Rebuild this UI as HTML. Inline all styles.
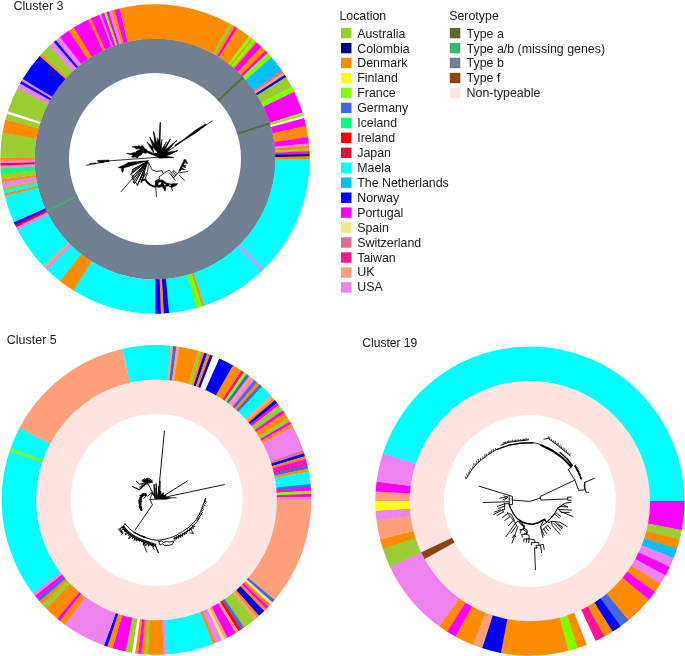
<!DOCTYPE html>
<html lang="en"><head><meta charset="utf-8"><title>Clusters</title>
<style>
html,body{margin:0;padding:0;background:#fff;}
body{width:685px;height:656px;overflow:hidden;}
svg{display:block;}
</style></head><body>
<svg width="685" height="656" viewBox="0 0 685 656">
<rect width="685" height="656" fill="#ffffff"/>
<g>
<path fill-rule="evenodd" fill="#708090" d="M34.40 159.05a120.60 120.60 0 1 0 241.20 0a120.60 120.60 0 1 0 -241.20 0ZM69.00 159.05a86.00 86.00 0 1 0 172.00 0a86.00 86.00 0 1 0 -172.00 0Z"/>
<path d="M242.77 76.34A120.60 120.60 0 0 1 244.06 77.73L218.51 101.06A86.00 86.00 0 0 0 217.59 100.07Z" fill="#556B2F"/>
<path d="M269.92 122.48A120.60 120.60 0 0 1 270.48 124.29L237.35 134.27A86.00 86.00 0 0 0 236.95 132.97Z" fill="#556B2F"/>
<path d="M46.61 211.92A120.60 120.60 0 0 1 45.79 210.21L77.12 195.53A86.00 86.00 0 0 0 77.70 196.75Z" fill="#3CB371"/>
<path d="M119.67 8.44A154.70 154.70 0 0 1 230.05 23.77L213.36 53.85A120.30 120.30 0 0 0 127.53 41.93Z" fill="#FF8C00"/>
<path d="M229.76 23.62A154.70 154.70 0 0 1 232.63 25.24L215.37 54.99A120.30 120.30 0 0 0 213.14 53.73Z" fill="#9ACD32"/>
<path d="M232.35 25.08A154.70 154.70 0 0 1 235.18 26.75L217.35 56.17A120.30 120.30 0 0 0 215.15 54.87Z" fill="#FF8C00"/>
<path d="M234.91 26.59A154.70 154.70 0 0 1 237.48 28.17L219.14 57.28A120.30 120.30 0 0 0 217.14 56.04Z" fill="#FF00FF"/>
<path d="M237.21 28.00A154.70 154.70 0 0 1 249.43 36.52L228.43 63.76A120.30 120.30 0 0 0 218.93 57.14Z" fill="#FF8C00"/>
<path d="M249.18 36.32A154.70 154.70 0 0 1 251.77 38.35L230.25 65.19A120.30 120.30 0 0 0 228.23 63.61Z" fill="#7FFF00"/>
<path d="M251.51 38.15A154.70 154.70 0 0 1 253.23 39.54L231.39 66.12A120.30 120.30 0 0 0 230.05 65.03Z" fill="#FF8C00"/>
<path d="M252.98 39.34A154.70 154.70 0 0 1 255.72 41.63L233.32 67.74A120.30 120.30 0 0 0 231.20 65.96Z" fill="#7FFF00"/>
<path d="M255.47 41.42A154.70 154.70 0 0 1 256.94 42.69L234.27 68.56A120.30 120.30 0 0 0 233.13 67.57Z" fill="#FF8C00"/>
<path d="M256.70 42.47A154.70 154.70 0 0 1 261.72 47.06L237.99 71.96A120.30 120.30 0 0 0 234.08 68.40Z" fill="#FF00FF"/>
<path d="M261.49 46.83A154.70 154.70 0 0 1 265.57 50.85L240.98 74.91A120.30 120.30 0 0 0 237.81 71.79Z" fill="#FF8C00"/>
<path d="M265.34 50.62A154.70 154.70 0 0 1 267.81 53.19L242.72 76.73A120.30 120.30 0 0 0 240.80 74.73Z" fill="#FF00FF"/>
<path d="M267.59 52.95A154.70 154.70 0 0 1 271.79 57.60L245.82 80.16A120.30 120.30 0 0 0 242.55 76.55Z" fill="#7FFF00"/>
<path d="M271.58 57.35A154.70 154.70 0 0 1 281.91 70.58L253.69 90.26A120.30 120.30 0 0 0 245.65 79.97Z" fill="#00BFFF"/>
<path d="M281.72 70.32A154.70 154.70 0 0 1 283.43 72.81L254.87 91.99A120.30 120.30 0 0 0 253.54 90.05Z" fill="#DB7093"/>
<path d="M283.25 72.54A154.70 154.70 0 0 1 284.92 75.07L256.03 93.74A120.30 120.30 0 0 0 254.73 91.78Z" fill="#FFA07A"/>
<path d="M284.74 74.79A154.70 154.70 0 0 1 286.36 77.35L257.15 95.51A120.30 120.30 0 0 0 255.89 93.53Z" fill="#0000FF"/>
<path d="M286.19 77.07A154.70 154.70 0 0 1 291.87 86.95L261.43 102.98A120.30 120.30 0 0 0 257.02 95.30Z" fill="#9ACD32"/>
<path d="M291.72 86.66A154.70 154.70 0 0 1 294.42 92.01L263.42 106.92A120.30 120.30 0 0 0 261.32 102.76Z" fill="#7FFF00"/>
<path d="M294.28 91.72A154.70 154.70 0 0 1 302.64 112.84L269.81 123.12A120.30 120.30 0 0 0 263.31 106.69Z" fill="#FF00FF"/>
<path d="M302.54 112.53A154.70 154.70 0 0 1 303.57 115.94L270.54 125.53A120.30 120.30 0 0 0 269.73 122.88Z" fill="#7FFF00"/>
<path d="M303.48 115.63A154.70 154.70 0 0 1 304.23 118.28L271.05 127.35A120.30 120.30 0 0 0 270.46 125.29Z" fill="#FFFFFF"/>
<path d="M304.15 117.97A154.70 154.70 0 0 1 306.16 126.15L272.55 133.46A120.30 120.30 0 0 0 270.98 127.10Z" fill="#FF00FF"/>
<path d="M306.09 125.83A154.70 154.70 0 0 1 308.16 137.31L274.11 142.14A120.30 120.30 0 0 0 272.49 133.22Z" fill="#FF8C00"/>
<path d="M308.12 136.99A154.70 154.70 0 0 1 308.91 143.47L274.69 146.93A120.30 120.30 0 0 0 274.07 141.89Z" fill="#FF00FF"/>
<path d="M308.88 143.15A154.70 154.70 0 0 1 309.12 145.62L274.85 148.61A120.30 120.30 0 0 0 274.66 146.68Z" fill="#EE82EE"/>
<path d="M309.09 145.30A154.70 154.70 0 0 1 309.35 148.58L275.02 150.91A120.30 120.30 0 0 0 274.82 148.36Z" fill="#FF8C00"/>
<path d="M309.32 148.26A154.70 154.70 0 0 1 309.50 151.28L275.15 153.01A120.30 120.30 0 0 0 275.01 150.66Z" fill="#9ACD32"/>
<path d="M309.49 150.95A154.70 154.70 0 0 1 309.62 153.97L275.24 155.10A120.30 120.30 0 0 0 275.14 152.75Z" fill="#FF00FF"/>
<path d="M309.61 153.65A154.70 154.70 0 0 1 309.68 156.67L275.29 157.20A120.30 120.30 0 0 0 275.23 154.85Z" fill="#000080"/>
<path d="M309.68 156.35A154.70 154.70 0 0 1 309.70 159.37L275.30 159.30A120.30 120.30 0 0 0 275.28 156.95Z" fill="#FF8C00"/>
<path d="M309.70 159.05A154.70 154.70 0 0 1 263.39 269.43L239.29 244.88A120.30 120.30 0 0 0 275.30 159.05Z" fill="#00FFFF"/>
<path d="M263.62 269.20A154.70 154.70 0 0 1 261.45 271.30L237.78 246.34A120.30 120.30 0 0 0 239.47 244.71Z" fill="#EE82EE"/>
<path d="M261.68 271.08A154.70 154.70 0 0 1 204.04 305.77L193.13 273.15A120.30 120.30 0 0 0 237.96 246.17Z" fill="#00FFFF"/>
<path d="M204.34 305.67A154.70 154.70 0 0 1 201.73 306.52L191.34 273.73A120.30 120.30 0 0 0 193.37 273.07Z" fill="#FF8C00"/>
<path d="M202.03 306.43A154.70 154.70 0 0 1 196.03 308.21L186.91 275.04A120.30 120.30 0 0 0 191.58 273.66Z" fill="#7FFF00"/>
<path d="M196.34 308.12A154.70 154.70 0 0 1 168.70 313.14L165.65 278.88A120.30 120.30 0 0 0 187.15 274.97Z" fill="#00FFFF"/>
<path d="M169.02 313.11A154.70 154.70 0 0 1 163.58 313.51L161.67 279.16A120.30 120.30 0 0 0 165.90 278.85Z" fill="#0000FF"/>
<path d="M163.91 313.49A154.70 154.70 0 0 1 160.61 313.65L159.37 279.27A120.30 120.30 0 0 0 161.92 279.15Z" fill="#FF8C00"/>
<path d="M160.94 313.64A154.70 154.70 0 0 1 154.95 313.75L154.96 279.35A120.30 120.30 0 0 0 159.62 279.26Z" fill="#0000FF"/>
<path d="M155.27 313.75A154.70 154.70 0 0 1 73.20 290.36L91.39 261.16A120.30 120.30 0 0 0 155.21 279.35Z" fill="#00FFFF"/>
<path d="M73.48 290.53A154.70 154.70 0 0 1 59.71 280.92L80.90 253.82A120.30 120.30 0 0 0 91.61 261.29Z" fill="#FF8C00"/>
<path d="M59.97 281.12A154.70 154.70 0 0 1 46.92 269.73L70.95 245.12A120.30 120.30 0 0 0 81.10 253.98Z" fill="#00FFFF"/>
<path d="M47.15 269.96A154.70 154.70 0 0 1 45.00 267.83L69.46 243.64A120.30 120.30 0 0 0 71.13 245.29Z" fill="#EE82EE"/>
<path d="M45.23 268.06A154.70 154.70 0 0 1 43.31 266.09L68.14 242.28A120.30 120.30 0 0 0 69.64 243.82Z" fill="#FFA07A"/>
<path d="M43.53 266.32A154.70 154.70 0 0 1 17.51 229.96L48.08 214.19A120.30 120.30 0 0 0 68.32 242.47Z" fill="#00FFFF"/>
<path d="M17.65 230.24A154.70 154.70 0 0 1 16.05 227.06L46.95 211.94A120.30 120.30 0 0 0 48.20 214.41Z" fill="#EE82EE"/>
<path d="M16.19 227.35A154.70 154.70 0 0 1 14.89 224.62L46.04 210.04A120.30 120.30 0 0 0 47.06 212.16Z" fill="#DC143C"/>
<path d="M15.02 224.92A154.70 154.70 0 0 1 13.65 221.92L45.08 207.94A120.30 120.30 0 0 0 46.15 210.27Z" fill="#0000FF"/>
<path d="M13.78 222.22A154.70 154.70 0 0 1 4.69 195.64L38.11 187.50A120.30 120.30 0 0 0 45.19 208.17Z" fill="#00FFFF"/>
<path d="M4.77 195.95A154.70 154.70 0 0 1 4.13 193.27L37.68 185.66A120.30 120.30 0 0 0 38.17 187.75Z" fill="#FF8C00"/>
<path d="M4.20 193.59A154.70 154.70 0 0 1 3.45 190.10L37.15 183.20A120.30 120.30 0 0 0 37.74 185.91Z" fill="#00FFFF"/>
<path d="M3.51 190.42A154.70 154.70 0 0 1 2.88 187.19L36.71 180.93A120.30 120.30 0 0 0 37.20 183.45Z" fill="#9ACD32"/>
<path d="M2.94 187.51A154.70 154.70 0 0 1 1.99 181.86L36.02 176.79A120.30 120.30 0 0 0 36.75 181.18Z" fill="#EE82EE"/>
<path d="M2.04 182.18A154.70 154.70 0 0 1 1.62 179.19L35.72 174.71A120.30 120.30 0 0 0 36.05 177.04Z" fill="#FF8C00"/>
<path d="M1.66 179.51A154.70 154.70 0 0 1 0.98 173.55L35.23 170.33A120.30 120.30 0 0 0 35.76 174.96Z" fill="#9ACD32"/>
<path d="M1.01 173.88A154.70 154.70 0 0 1 0.57 168.17L34.91 166.14A120.30 120.30 0 0 0 35.25 170.58Z" fill="#00FF7F"/>
<path d="M0.59 168.49A154.70 154.70 0 0 1 0.43 165.47L34.80 164.05A120.30 120.30 0 0 0 34.92 166.39Z" fill="#EE82EE"/>
<path d="M0.45 165.80A154.70 154.70 0 0 1 0.34 162.78L34.73 161.95A120.30 120.30 0 0 0 34.81 164.30Z" fill="#DC143C"/>
<path d="M0.35 163.10A154.70 154.70 0 0 1 0.31 160.35L34.70 160.06A120.30 120.30 0 0 0 34.74 162.20Z" fill="#EE82EE"/>
<path d="M0.31 160.67A154.70 154.70 0 0 1 0.31 157.38L34.71 157.75A120.30 120.30 0 0 0 34.71 160.31Z" fill="#FF8C00"/>
<path d="M0.31 157.70A154.70 154.70 0 0 1 2.57 132.67L36.46 138.53A120.30 120.30 0 0 0 34.70 158.00Z" fill="#9ACD32"/>
<path d="M2.51 132.98A154.70 154.70 0 0 1 5.52 119.22L38.76 128.08A120.30 120.30 0 0 0 36.42 138.78Z" fill="#FF8C00"/>
<path d="M5.43 119.53A154.70 154.70 0 0 1 7.15 113.51L40.03 123.64A120.30 120.30 0 0 0 38.69 128.32Z" fill="#9ACD32"/>
<path d="M7.06 113.82A154.70 154.70 0 0 1 7.97 110.94L40.67 121.64A120.30 120.30 0 0 0 39.96 123.88Z" fill="#FFFFFF"/>
<path d="M7.87 111.25A154.70 154.70 0 0 1 17.56 88.05L48.12 103.84A120.30 120.30 0 0 0 40.59 121.88Z" fill="#9ACD32"/>
<path d="M17.41 88.34A154.70 154.70 0 0 1 20.12 83.30L50.11 100.14A120.30 120.30 0 0 0 48.00 104.06Z" fill="#EE82EE"/>
<path d="M19.96 83.58A154.70 154.70 0 0 1 21.60 80.72L51.26 98.14A120.30 120.30 0 0 0 49.99 100.36Z" fill="#0000FF"/>
<path d="M21.43 81.00A154.70 154.70 0 0 1 22.84 78.63L52.23 96.52A120.30 120.30 0 0 0 51.13 98.36Z" fill="#EE82EE"/>
<path d="M22.68 78.91A154.70 154.70 0 0 1 39.89 55.70L65.49 78.68A120.30 120.30 0 0 0 52.10 96.73Z" fill="#0000FF"/>
<path d="M39.67 55.94A154.70 154.70 0 0 1 41.71 53.70L66.90 77.13A120.30 120.30 0 0 0 65.32 78.87Z" fill="#FF8C00"/>
<path d="M41.49 53.94A154.70 154.70 0 0 1 49.53 45.87L72.99 71.04A120.30 120.30 0 0 0 66.73 77.31Z" fill="#9ACD32"/>
<path d="M49.30 46.09A154.70 154.70 0 0 1 53.96 41.91L76.43 67.96A120.30 120.30 0 0 0 72.80 71.21Z" fill="#EE82EE"/>
<path d="M53.71 42.12A154.70 154.70 0 0 1 56.22 39.99L78.19 66.46A120.30 120.30 0 0 0 76.23 68.12Z" fill="#0000FF"/>
<path d="M55.98 40.20A154.70 154.70 0 0 1 60.23 36.78L81.30 63.97A120.30 120.30 0 0 0 77.99 66.63Z" fill="#EE82EE"/>
<path d="M59.97 36.98A154.70 154.70 0 0 1 68.99 30.47L88.11 59.06A120.30 120.30 0 0 0 81.10 64.12Z" fill="#FF00FF"/>
<path d="M68.72 30.65A154.70 154.70 0 0 1 73.99 27.26L92.00 56.57A120.30 120.30 0 0 0 87.90 59.20Z" fill="#FF8C00"/>
<path d="M73.71 27.43A154.70 154.70 0 0 1 88.45 19.40L103.25 50.45A120.30 120.30 0 0 0 91.79 56.70Z" fill="#FF00FF"/>
<path d="M88.16 19.54A154.70 154.70 0 0 1 91.14 18.14L105.34 49.48A120.30 120.30 0 0 0 103.02 50.56Z" fill="#FF8C00"/>
<path d="M90.85 18.28A154.70 154.70 0 0 1 99.36 14.70L111.73 46.80A120.30 120.30 0 0 0 105.11 49.58Z" fill="#FF00FF"/>
<path d="M99.06 14.82A154.70 154.70 0 0 1 101.38 13.94L113.30 46.21A120.30 120.30 0 0 0 111.50 46.89Z" fill="#EE82EE"/>
<path d="M101.08 14.05A154.70 154.70 0 0 1 104.43 12.85L115.68 45.36A120.30 120.30 0 0 0 113.07 46.29Z" fill="#FF00FF"/>
<path d="M104.12 12.95A154.70 154.70 0 0 1 106.73 12.07L117.47 44.76A120.30 120.30 0 0 0 115.44 45.44Z" fill="#7FFF00"/>
<path d="M106.43 12.17A154.70 154.70 0 0 1 109.05 11.33L119.27 44.18A120.30 120.30 0 0 0 117.23 44.83Z" fill="#FF00FF"/>
<path d="M108.74 11.43A154.70 154.70 0 0 1 111.89 10.48L121.48 43.51A120.30 120.30 0 0 0 119.03 44.25Z" fill="#EE82EE"/>
<path d="M111.58 10.57A154.70 154.70 0 0 1 114.75 9.68L123.70 42.89A120.30 120.30 0 0 0 121.24 43.59Z" fill="#FF8C00"/>
<path d="M114.44 9.76A154.70 154.70 0 0 1 119.67 8.44L127.53 41.93A120.30 120.30 0 0 0 123.46 42.96Z" fill="#FF00FF"/>
</g>
<g>
<path fill-rule="evenodd" fill="#FFE4E1" d="M35.85 499.90a120.65 120.65 0 1 0 241.30 0a120.65 120.65 0 1 0 -241.30 0ZM70.55 499.90a85.95 85.95 0 1 0 171.90 0a85.95 85.95 0 1 0 -171.90 0Z"/>
<path d="M122.27 348.93A154.80 154.80 0 0 1 170.79 345.76L167.61 380.06A120.35 120.35 0 0 0 129.89 382.53Z" fill="#00FFFF"/>
<path d="M170.46 345.73A154.80 154.80 0 0 1 173.47 346.03L169.69 380.28A120.35 120.35 0 0 0 167.36 380.04Z" fill="#FFA07A"/>
<path d="M173.15 346.00A154.80 154.80 0 0 1 176.68 346.42L172.19 380.58A120.35 120.35 0 0 0 169.44 380.25Z" fill="#4169E1"/>
<path d="M176.36 346.38A154.80 154.80 0 0 1 179.62 346.84L174.47 380.90A120.35 120.35 0 0 0 171.94 380.54Z" fill="#FFA07A"/>
<path d="M179.30 346.79A154.80 154.80 0 0 1 198.32 350.86L189.01 384.02A120.35 120.35 0 0 0 174.22 380.86Z" fill="#FF8C00"/>
<path d="M198.01 350.77A154.80 154.80 0 0 1 201.42 351.76L191.43 384.73A120.35 120.35 0 0 0 188.77 383.96Z" fill="#9ACD32"/>
<path d="M201.11 351.67A154.80 154.80 0 0 1 204.51 352.73L193.83 385.48A120.35 120.35 0 0 0 191.19 384.66Z" fill="#FF8C00"/>
<path d="M204.20 352.63A154.80 154.80 0 0 1 207.32 353.68L196.01 386.22A120.35 120.35 0 0 0 193.59 385.41Z" fill="#0000FF"/>
<path d="M207.02 353.57A154.80 154.80 0 0 1 210.37 354.78L198.38 387.07A120.35 120.35 0 0 0 195.77 386.14Z" fill="#FF8C00"/>
<path d="M210.06 354.66A154.80 154.80 0 0 1 213.14 355.83L200.53 387.90A120.35 120.35 0 0 0 198.14 386.98Z" fill="#0000FF"/>
<path d="M212.84 355.72A154.80 154.80 0 0 1 219.61 358.55L205.56 390.00A120.35 120.35 0 0 0 200.30 387.80Z" fill="#FFFFFF"/>
<path d="M219.31 358.42A154.80 154.80 0 0 1 233.31 365.50L216.22 395.41A120.35 120.35 0 0 0 205.33 389.90Z" fill="#0000FF"/>
<path d="M233.03 365.34A154.80 154.80 0 0 1 241.59 370.58L222.66 399.36A120.35 120.35 0 0 0 216.00 395.29Z" fill="#FF8C00"/>
<path d="M241.32 370.41A154.80 154.80 0 0 1 244.28 372.39L224.74 400.77A120.35 120.35 0 0 0 222.44 399.22Z" fill="#FF1493"/>
<path d="M244.01 372.21A154.80 154.80 0 0 1 246.93 374.26L226.80 402.22A120.35 120.35 0 0 0 224.54 400.63Z" fill="#7FFF00"/>
<path d="M246.66 374.07A154.80 154.80 0 0 1 249.54 376.18L228.83 403.71A120.35 120.35 0 0 0 226.60 402.07Z" fill="#4169E1"/>
<path d="M249.28 375.98A154.80 154.80 0 0 1 252.32 378.32L230.99 405.38A120.35 120.35 0 0 0 228.63 403.56Z" fill="#FFA07A"/>
<path d="M252.06 378.12A154.80 154.80 0 0 1 254.63 380.18L232.79 406.82A120.35 120.35 0 0 0 230.79 405.22Z" fill="#EE82EE"/>
<path d="M254.38 379.97A154.80 154.80 0 0 1 257.32 382.43L234.88 408.58A120.35 120.35 0 0 0 232.60 406.66Z" fill="#4169E1"/>
<path d="M257.07 382.22A154.80 154.80 0 0 1 259.76 384.57L236.78 410.24A120.35 120.35 0 0 0 234.69 408.41Z" fill="#FF8C00"/>
<path d="M259.51 384.35A154.80 154.80 0 0 1 262.15 386.76L238.64 411.94A120.35 120.35 0 0 0 236.59 410.07Z" fill="#4169E1"/>
<path d="M261.91 386.53A154.80 154.80 0 0 1 271.06 395.79L245.56 418.96A120.35 120.35 0 0 0 238.45 411.76Z" fill="#00FFFF"/>
<path d="M270.84 395.55A154.80 154.80 0 0 1 273.39 398.41L247.38 421.00A120.35 120.35 0 0 0 245.39 418.77Z" fill="#FFA07A"/>
<path d="M273.18 398.17A154.80 154.80 0 0 1 275.14 400.47L248.74 422.60A120.35 120.35 0 0 0 247.21 420.81Z" fill="#FF8C00"/>
<path d="M274.94 400.22A154.80 154.80 0 0 1 277.20 402.97L250.34 424.55A120.35 120.35 0 0 0 248.58 422.40Z" fill="#0000FF"/>
<path d="M277.00 402.72A154.80 154.80 0 0 1 279.04 405.31L251.77 426.36A120.35 120.35 0 0 0 250.18 424.35Z" fill="#FF00FF"/>
<path d="M278.84 405.05A154.80 154.80 0 0 1 282.89 410.52L254.76 430.41A120.35 120.35 0 0 0 251.61 426.16Z" fill="#9ACD32"/>
<path d="M282.70 410.26A154.80 154.80 0 0 1 284.58 412.97L256.08 432.31A120.35 120.35 0 0 0 254.62 430.21Z" fill="#FF00FF"/>
<path d="M284.40 412.70A154.80 154.80 0 0 1 288.11 418.41L258.82 436.54A120.35 120.35 0 0 0 255.94 432.11Z" fill="#FF8C00"/>
<path d="M287.94 418.13A154.80 154.80 0 0 1 290.20 421.88L260.45 439.24A120.35 120.35 0 0 0 258.69 436.33Z" fill="#9ACD32"/>
<path d="M290.04 421.60A154.80 154.80 0 0 1 291.41 423.99L261.39 440.89A120.35 120.35 0 0 0 260.32 439.03Z" fill="#FF00FF"/>
<path d="M291.25 423.71A154.80 154.80 0 0 1 293.10 427.07L262.70 443.28A120.35 120.35 0 0 0 261.26 440.67Z" fill="#FF8C00"/>
<path d="M292.95 426.79A154.80 154.80 0 0 1 303.25 450.64L270.59 461.60A120.35 120.35 0 0 0 262.58 443.06Z" fill="#EE82EE"/>
<path d="M303.15 450.33A154.80 154.80 0 0 1 304.17 453.47L271.31 463.80A120.35 120.35 0 0 0 270.51 461.36Z" fill="#DB7093"/>
<path d="M304.07 453.16A154.80 154.80 0 0 1 305.11 456.57L272.04 466.22A120.35 120.35 0 0 0 271.23 463.56Z" fill="#0000FF"/>
<path d="M305.02 456.26A154.80 154.80 0 0 1 305.92 459.44L272.67 468.44A120.35 120.35 0 0 0 271.97 465.97Z" fill="#FF8C00"/>
<path d="M305.83 459.12A154.80 154.80 0 0 1 306.73 462.58L273.30 470.88A120.35 120.35 0 0 0 272.60 468.20Z" fill="#FF00FF"/>
<path d="M306.66 462.26A154.80 154.80 0 0 1 307.48 465.74L273.88 473.34A120.35 120.35 0 0 0 273.24 470.64Z" fill="#FF1493"/>
<path d="M307.41 465.42A154.80 154.80 0 0 1 308.17 468.91L274.41 475.81A120.35 120.35 0 0 0 273.83 473.09Z" fill="#4169E1"/>
<path d="M308.10 468.59A154.80 154.80 0 0 1 308.73 471.83L274.86 478.08A120.35 120.35 0 0 0 274.36 475.56Z" fill="#FF8C00"/>
<path d="M308.68 471.51A154.80 154.80 0 0 1 310.52 484.42L276.25 487.87A120.35 120.35 0 0 0 274.81 477.83Z" fill="#00FFFF"/>
<path d="M310.49 484.10A154.80 154.80 0 0 1 310.81 487.66L276.47 490.38A120.35 120.35 0 0 0 276.22 487.61Z" fill="#4169E1"/>
<path d="M310.79 487.33A154.80 154.80 0 0 1 311.04 490.90L276.65 492.90A120.35 120.35 0 0 0 276.45 490.13Z" fill="#FF00FF"/>
<path d="M311.02 490.57A154.80 154.80 0 0 1 311.19 494.14L276.77 495.42A120.35 120.35 0 0 0 276.63 492.65Z" fill="#7FFF00"/>
<path d="M311.18 493.82A154.80 154.80 0 0 1 311.27 497.12L276.83 497.74A120.35 120.35 0 0 0 276.76 495.17Z" fill="#FF1493"/>
<path d="M311.27 496.79A154.80 154.80 0 0 1 311.30 500.09L276.85 500.05A120.35 120.35 0 0 0 276.83 497.48Z" fill="#EE82EE"/>
<path d="M311.30 499.77A154.80 154.80 0 0 1 274.42 600.19L248.18 577.87A120.35 120.35 0 0 0 276.85 499.80Z" fill="#FFA07A"/>
<path d="M274.63 599.94A154.80 154.80 0 0 1 272.29 602.64L246.52 579.78A120.35 120.35 0 0 0 248.34 577.67Z" fill="#4169E1"/>
<path d="M272.51 602.40A154.80 154.80 0 0 1 270.29 604.85L244.97 581.49A120.35 120.35 0 0 0 246.69 579.59Z" fill="#F0E68C"/>
<path d="M270.51 604.61A154.80 154.80 0 0 1 268.25 607.02L243.38 583.18A120.35 120.35 0 0 0 245.14 581.31Z" fill="#FF8C00"/>
<path d="M268.47 606.79A154.80 154.80 0 0 1 266.16 609.16L241.76 584.84A120.35 120.35 0 0 0 243.55 583.00Z" fill="#FF00FF"/>
<path d="M266.39 608.93A154.80 154.80 0 0 1 264.04 611.25L240.11 586.47A120.35 120.35 0 0 0 241.94 584.66Z" fill="#FF8C00"/>
<path d="M264.27 611.02A154.80 154.80 0 0 1 258.86 616.03L236.08 590.18A120.35 120.35 0 0 0 240.29 586.29Z" fill="#0000FF"/>
<path d="M259.10 615.81A154.80 154.80 0 0 1 256.61 617.98L234.33 591.70A120.35 120.35 0 0 0 236.27 590.02Z" fill="#FF8C00"/>
<path d="M256.85 617.77A154.80 154.80 0 0 1 254.31 619.88L232.55 593.18A120.35 120.35 0 0 0 234.52 591.54Z" fill="#FFA07A"/>
<path d="M254.56 619.68A154.80 154.80 0 0 1 243.90 627.67L224.45 599.24A120.35 120.35 0 0 0 232.74 593.02Z" fill="#9ACD32"/>
<path d="M244.16 627.49A154.80 154.80 0 0 1 240.96 629.63L222.17 600.76A120.35 120.35 0 0 0 224.65 599.09Z" fill="#4169E1"/>
<path d="M241.24 629.45A154.80 154.80 0 0 1 238.22 631.37L220.03 602.11A120.35 120.35 0 0 0 222.38 600.62Z" fill="#FF0000"/>
<path d="M238.50 631.20A154.80 154.80 0 0 1 235.44 633.06L217.87 603.43A120.35 120.35 0 0 0 220.25 601.98Z" fill="#FFA07A"/>
<path d="M235.72 632.89A154.80 154.80 0 0 1 227.14 637.64L211.42 606.99A120.35 120.35 0 0 0 218.09 603.30Z" fill="#FF00FF"/>
<path d="M227.42 637.50A154.80 154.80 0 0 1 224.23 639.10L209.15 608.12A120.35 120.35 0 0 0 211.64 606.87Z" fill="#FFA07A"/>
<path d="M224.52 638.96A154.80 154.80 0 0 1 221.53 640.38L207.06 609.11A120.35 120.35 0 0 0 209.38 608.01Z" fill="#F0E68C"/>
<path d="M221.83 640.24A154.80 154.80 0 0 1 215.57 642.98L202.43 611.14A120.35 120.35 0 0 0 207.29 609.01Z" fill="#EE82EE"/>
<path d="M215.87 642.86A154.80 154.80 0 0 1 212.81 644.10L200.28 612.01A120.35 120.35 0 0 0 202.66 611.05Z" fill="#FF8C00"/>
<path d="M213.11 643.98A154.80 154.80 0 0 1 166.43 654.38L164.22 620.00A120.35 120.35 0 0 0 200.51 611.91Z" fill="#00FFFF"/>
<path d="M166.76 654.36A154.80 154.80 0 0 1 163.46 654.54L161.91 620.13A120.35 120.35 0 0 0 164.47 619.99Z" fill="#EE82EE"/>
<path d="M163.78 654.53A154.80 154.80 0 0 1 147.48 654.44L149.49 620.05A120.35 120.35 0 0 0 162.16 620.12Z" fill="#FF8C00"/>
<path d="M147.81 654.46A154.80 154.80 0 0 1 144.24 654.21L146.97 619.87A120.35 120.35 0 0 0 149.74 620.06Z" fill="#9ACD32"/>
<path d="M144.56 654.24A154.80 154.80 0 0 1 141.00 653.92L144.45 619.65A120.35 120.35 0 0 0 147.22 619.89Z" fill="#FF8C00"/>
<path d="M141.33 653.95A154.80 154.80 0 0 1 137.77 653.56L141.94 619.37A120.35 120.35 0 0 0 144.70 619.67Z" fill="#FF00FF"/>
<path d="M138.10 653.60A154.80 154.80 0 0 1 134.82 653.17L139.65 619.06A120.35 120.35 0 0 0 142.19 619.40Z" fill="#FF8C00"/>
<path d="M135.14 653.22A154.80 154.80 0 0 1 131.61 652.69L137.15 618.68A120.35 120.35 0 0 0 139.89 619.10Z" fill="#FFFFFF"/>
<path d="M131.93 652.74A154.80 154.80 0 0 1 125.22 651.51L132.18 617.77A120.35 120.35 0 0 0 137.40 618.72Z" fill="#9ACD32"/>
<path d="M125.54 651.57A154.80 154.80 0 0 1 112.36 648.27L122.18 615.25A120.35 120.35 0 0 0 132.43 617.82Z" fill="#FF00FF"/>
<path d="M112.67 648.36A154.80 154.80 0 0 1 106.94 646.55L117.97 613.92A120.35 120.35 0 0 0 122.42 615.32Z" fill="#FF8C00"/>
<path d="M107.25 646.66A154.80 154.80 0 0 1 103.87 645.48L115.59 613.08A120.35 120.35 0 0 0 118.21 614.00Z" fill="#0000FF"/>
<path d="M104.18 645.59A154.80 154.80 0 0 1 64.64 624.50L85.09 596.77A120.35 120.35 0 0 0 115.82 613.17Z" fill="#EE82EE"/>
<path d="M64.91 624.69A154.80 154.80 0 0 1 59.50 620.54L81.09 593.69A120.35 120.35 0 0 0 85.29 596.92Z" fill="#FF8C00"/>
<path d="M59.76 620.75A154.80 154.80 0 0 1 57.00 618.48L79.14 592.09A120.35 120.35 0 0 0 81.29 593.85Z" fill="#FF00FF"/>
<path d="M57.24 618.69A154.80 154.80 0 0 1 45.51 607.81L70.21 583.80A120.35 120.35 0 0 0 79.33 592.25Z" fill="#FF8C00"/>
<path d="M45.74 608.05A154.80 154.80 0 0 1 41.63 603.67L67.20 580.58A120.35 120.35 0 0 0 70.39 583.98Z" fill="#9ACD32"/>
<path d="M41.85 603.91A154.80 154.80 0 0 1 39.31 601.04L65.39 578.53A120.35 120.35 0 0 0 67.37 580.77Z" fill="#FF8C00"/>
<path d="M39.52 601.28A154.80 154.80 0 0 1 37.04 598.35L63.63 576.44A120.35 120.35 0 0 0 65.55 578.72Z" fill="#4169E1"/>
<path d="M37.25 598.60A154.80 154.80 0 0 1 34.84 595.62L61.92 574.32A120.35 120.35 0 0 0 63.79 576.64Z" fill="#FF00FF"/>
<path d="M35.04 595.87A154.80 154.80 0 0 1 32.86 593.05L60.38 572.32A120.35 120.35 0 0 0 62.07 574.51Z" fill="#EE82EE"/>
<path d="M33.06 593.31A154.80 154.80 0 0 1 9.64 450.97L42.32 461.86A120.35 120.35 0 0 0 60.53 572.52Z" fill="#00FFFF"/>
<path d="M9.53 451.28A154.80 154.80 0 0 1 10.60 448.17L43.07 459.68A120.35 120.35 0 0 0 42.24 462.10Z" fill="#7FFF00"/>
<path d="M10.49 448.47A154.80 154.80 0 0 1 19.57 427.70L50.04 443.77A120.35 120.35 0 0 0 42.99 459.92Z" fill="#00FFFF"/>
<path d="M19.42 427.99A154.80 154.80 0 0 1 122.27 348.93L129.89 382.53A120.35 120.35 0 0 0 49.92 443.99Z" fill="#FFA07A"/>
</g>
<g>
<path fill-rule="evenodd" fill="#FFE4E1" d="M409.40 501.10a120.50 120.50 0 1 0 241.00 0a120.50 120.50 0 1 0 -241.00 0ZM443.90 501.10a86.00 86.00 0 1 0 172.00 0a86.00 86.00 0 1 0 -172.00 0Z"/>
<path d="M424.31 559.15A120.50 120.50 0 0 1 420.87 552.41L452.08 537.72A86.00 86.00 0 0 0 454.54 542.53Z" fill="#8B4513"/>
<path d="M529.90 346.50A154.60 154.60 0 0 1 684.50 501.42L650.10 501.35A120.20 120.20 0 0 0 529.90 380.90Z" fill="#00FFFF"/>
<path d="M684.50 501.10A154.60 154.60 0 0 1 681.70 530.39L647.92 523.87A120.20 120.20 0 0 0 650.10 501.10Z" fill="#FF00FF"/>
<path d="M681.76 530.07A154.60 154.60 0 0 1 679.56 539.86L646.26 531.24A120.20 120.20 0 0 0 647.97 523.62Z" fill="#9ACD32"/>
<path d="M679.64 539.55A154.60 154.60 0 0 1 676.83 549.18L644.14 538.48A120.20 120.20 0 0 0 646.32 530.99Z" fill="#FF8C00"/>
<path d="M676.93 548.87A154.60 154.60 0 0 1 673.52 558.31L641.57 545.58A120.20 120.20 0 0 0 644.22 538.24Z" fill="#00BFFF"/>
<path d="M673.64 558.01A154.60 154.60 0 0 1 669.65 567.22L638.55 552.51A120.20 120.20 0 0 0 641.66 545.35Z" fill="#EE82EE"/>
<path d="M669.79 566.93A154.60 154.60 0 0 1 665.22 575.86L635.11 559.23A120.20 120.20 0 0 0 638.66 552.28Z" fill="#FF00FF"/>
<path d="M665.38 575.58A154.60 154.60 0 0 1 660.26 584.21L631.25 565.72A120.20 120.20 0 0 0 635.23 559.01Z" fill="#EE82EE"/>
<path d="M660.43 583.94A154.60 154.60 0 0 1 654.78 592.23L627.00 571.96A120.20 120.20 0 0 0 631.39 565.51Z" fill="#FF8C00"/>
<path d="M654.97 591.97A154.60 154.60 0 0 1 648.81 599.90L622.36 577.91A120.20 120.20 0 0 0 627.14 571.75Z" fill="#FF00FF"/>
<path d="M649.02 599.65A154.60 154.60 0 0 1 628.20 620.43L606.32 593.88A120.20 120.20 0 0 0 622.52 577.72Z" fill="#FF8C00"/>
<path d="M628.45 620.22A154.60 154.60 0 0 1 620.51 626.36L600.35 598.49A120.20 120.20 0 0 0 606.52 593.72Z" fill="#4169E1"/>
<path d="M620.77 626.17A154.60 154.60 0 0 1 612.47 631.81L594.09 602.72A120.20 120.20 0 0 0 600.55 598.34Z" fill="#0000FF"/>
<path d="M612.74 631.63A154.60 154.60 0 0 1 604.10 636.73L587.59 606.55A120.20 120.20 0 0 0 594.31 602.59Z" fill="#FF8C00"/>
<path d="M604.38 636.58A154.60 154.60 0 0 1 595.43 641.12L580.85 609.97A120.20 120.20 0 0 0 587.81 606.43Z" fill="#FF1493"/>
<path d="M595.73 640.99A154.60 154.60 0 0 1 586.51 644.96L573.91 612.95A120.20 120.20 0 0 0 581.08 609.86Z" fill="#FFFFFF"/>
<path d="M586.81 644.84A154.60 154.60 0 0 1 577.37 648.23L566.80 615.49A120.20 120.20 0 0 0 574.15 612.86Z" fill="#FF8C00"/>
<path d="M577.67 648.13A154.60 154.60 0 0 1 568.03 650.92L559.55 617.59A120.20 120.20 0 0 0 567.04 615.42Z" fill="#7FFF00"/>
<path d="M568.35 650.84A154.60 154.60 0 0 1 500.61 652.90L507.13 619.12A120.20 120.20 0 0 0 559.79 617.52Z" fill="#FF8C00"/>
<path d="M500.93 652.96A154.60 154.60 0 0 1 481.82 648.03L492.52 615.34A120.20 120.20 0 0 0 507.38 619.17Z" fill="#0000FF"/>
<path d="M482.13 648.13A154.60 154.60 0 0 1 472.69 644.72L485.42 612.77A120.20 120.20 0 0 0 492.76 615.42Z" fill="#FFA07A"/>
<path d="M472.99 644.84A154.60 154.60 0 0 1 455.14 636.42L471.77 606.31A120.20 120.20 0 0 0 485.65 612.86Z" fill="#FF8C00"/>
<path d="M455.42 636.58A154.60 154.60 0 0 1 446.79 631.46L465.28 602.45A120.20 120.20 0 0 0 471.99 606.43Z" fill="#FF00FF"/>
<path d="M447.06 631.63A154.60 154.60 0 0 1 438.77 625.98L459.04 598.20A120.20 120.20 0 0 0 465.49 602.59Z" fill="#FF8C00"/>
<path d="M439.03 626.17A154.60 154.60 0 0 1 389.88 566.63L421.03 552.05A120.20 120.20 0 0 0 459.25 598.34Z" fill="#EE82EE"/>
<path d="M390.01 566.93A154.60 154.60 0 0 1 382.77 548.57L415.51 538.00A120.20 120.20 0 0 0 421.14 552.28Z" fill="#9ACD32"/>
<path d="M382.87 548.87A154.60 154.60 0 0 1 380.08 539.23L413.41 530.75A120.20 120.20 0 0 0 415.58 538.24Z" fill="#FF8C00"/>
<path d="M380.16 539.55A154.60 154.60 0 0 1 376.48 520.16L410.62 515.92A120.20 120.20 0 0 0 413.48 530.99Z" fill="#FFA07A"/>
<path d="M376.52 520.48A154.60 154.60 0 0 1 375.59 510.48L409.92 508.40A120.20 120.20 0 0 0 410.65 516.17Z" fill="#EE82EE"/>
<path d="M375.61 510.81A154.60 154.60 0 0 1 375.30 500.78L409.70 500.85A120.20 120.20 0 0 0 409.94 508.65Z" fill="#FFFF00"/>
<path d="M375.30 501.10A154.60 154.60 0 0 1 375.63 491.07L409.95 493.30A120.20 120.20 0 0 0 409.70 501.10Z" fill="#FFA07A"/>
<path d="M375.61 491.39A154.60 154.60 0 0 1 376.56 481.40L410.68 485.79A120.20 120.20 0 0 0 409.94 493.55Z" fill="#FF00FF"/>
<path d="M376.52 481.72A154.60 154.60 0 0 1 382.97 453.02L415.66 463.72A120.20 120.20 0 0 0 410.65 486.03Z" fill="#EE82EE"/>
<path d="M382.87 453.33A154.60 154.60 0 0 1 529.90 346.50L529.90 380.90A120.20 120.20 0 0 0 415.58 463.96Z" fill="#00FFFF"/>
</g>
<g fill="none" stroke="#000" stroke-linejoin="round" stroke-linecap="round">
<path d="M155.5 156.0L146.9 142.0L152.9 147.0L149.9 137.4L154.8 144.0L153.5 131.5L157.0 144.1L157.4 137.9L159.0 141.5L160.3 122.5L160.0 146.1L162.0 139.2L161.3 150.1L166.5 141.5L163.0 150.1L170.2 139.2L165.2 149.9L176.6 140.6L166.7 152.3L177.5 150.7L166.0 155.9L173.4 157.5L160.0 158.2Z" fill="#000" stroke-width="0.5"/>
<path d="M159.2 157.2L160.3 122.5" stroke-width="0.8"/>
<path d="M159.2 157.2L153.5 131.5" stroke-width="0.8"/>
<path d="M159.2 157.2L170.2 139.2" stroke-width="0.8"/>
<path d="M159.2 157.2L177.5 150.7" stroke-width="0.8"/>
<path d="M159.2 157.2L173.4 157.5" stroke-width="0.8"/>
<path d="M159.2 157.2L149.9 137.4" stroke-width="0.8"/>
<path d="M159.2 157.2L176.6 140.6" stroke-width="0.8"/>
<path d="M159.2 157.2L172.5 153.5" stroke-width="0.8"/>
<path d="M152.9 147.6L157.6 152.8L154.2 152.9Z" fill="#fff" stroke="none"/>
<path d="M159.2 157.2L212.1 120.9" stroke-width="0.8"/>
<path d="M186.0 137.4L196.0 129.8L205.4 123.9L206.2 125.0L197.2 131.9L186.6 138.6Z" fill="#000" stroke-width="0.5"/>
<path d="M175.5 145.3L186.3 138.0" stroke-width="1.3"/>
<path d="M159.2 157.2L110.0 160.8L86.2 165.3" stroke-width="0.8"/>
<path d="M97.5 160.6L109.0 160.0L109.0 161.6L104.0 161.6L103.5 162.6L99.0 162.6Z" fill="#000" stroke-width="0.5"/>
<path d="M90.0 163.6L96.0 163.0L95.0 164.2" stroke-width="0.8"/>
<path d="M155.7 154.9L150.3 151.7L147.5 151.0L146.6 149.4L144.5 148.6L143.6 146.2L142.0 145.5L140.5 146.6L139.2 145.6L137.4 146.6L135.0 146.0L132.0 146.9L134.5 147.6L136.5 148.9L139.0 148.8L140.6 149.8L138.2 150.6L136.5 151.2L135.8 152.4L133.5 152.4L131.0 153.6L126.5 153.3L130.0 154.6L133.2 154.9L131.6 156.2L132.6 157.6L135.0 157.0L137.4 157.9L139.0 156.0L141.1 154.9L143.0 152.6L145.6 153.4L147.2 152.6L150.3 154.0L155.7 155.8Z" fill="#000" stroke-width="0.5"/>
<path d="M148.4 160.6L137.4 161.5L128.3 162.4L123.7 165.2L118.2 167.5L121.9 168.4L121.4 170.2L122.4 172.5L123.7 169.8L123.7 167.9L132.9 165.2L142.0 162.4L148.4 161.1Z" fill="#000" stroke-width="0.5"/>
<path d="M147.5 161.5L132.0 169.8L133.8 171.6L130.6 174.3L133.3 176.2L132.0 178.5L134.2 179.8L133.3 182.6L136.1 182.6L137.4 185.3L139.3 180.7L141.1 182.6L142.9 178.0L145.7 174.3L147.5 171.6L148.4 165.2L147.5 161.5" stroke-width="0.8"/>
<path d="M147.5 161.5L132.0 169.8" stroke-width="1.0"/>
<path d="M147.5 161.5L130.6 174.3" stroke-width="1.0"/>
<path d="M147.5 161.5L132.9 179.8" stroke-width="1.0"/>
<path d="M147.5 161.5L134.7 183.5" stroke-width="1.0"/>
<path d="M147.5 161.5L137.4 185.3" stroke-width="1.0"/>
<path d="M147.5 161.5L139.3 181.7" stroke-width="1.0"/>
<path d="M147.5 161.5L141.6 182.1" stroke-width="1.0"/>
<path d="M147.5 161.5L131.5 172.1" stroke-width="1.0"/>
<path d="M147.5 161.5L131.8 177.1" stroke-width="1.0"/>
<path d="M147.5 161.5L133.8 181.7" stroke-width="1.0"/>
<path d="M147.5 161.5L121.0 191.7" stroke-width="0.8"/>
<path d="M148.7 162.4L150.1 165.6L151.9 169.7L156.5 171.5L162.0 170.6L163.3 173.8L166.5 171.5L169.3 170.1L171.6 172.9L173.4 170.6L177.5 173.8L178.9 171.5L184.8 159.6" stroke-width="0.8"/>
<path d="M183.5 162.8L187.6 163.3" stroke-width="0.8"/>
<path d="M181.6 166.5L185.7 167.4" stroke-width="0.8"/>
<path d="M179.3 172.9L187.6 171.5" stroke-width="0.8"/>
<path d="M179.3 175.6L184.4 180.2" stroke-width="0.8"/>
<path d="M184.0 161.0L186.5 160.2" stroke-width="0.8"/>
<path d="M182.5 164.8L186.0 165.5" stroke-width="0.8"/>
<path d="M180.5 169.0L185.0 169.6" stroke-width="0.8"/>
<path d="M184.6 159.4L185.6 159.9L180.3 171.3L179.3 171.0Z" fill="#000" stroke-width="0.5"/>
<path d="M184.2 160.6L186.8 162.6" stroke-width="1.3"/>
<path d="M182.6 165.0L185.2 167.0" stroke-width="1.3"/>
<path d="M181.2 168.0L183.4 169.2" stroke-width="1.3"/>
<path d="M163.3 173.8L158.8 177.0L159.7 179.3L156.0 180.2L155.6 186.6L156.5 196.7" stroke-width="0.8"/>
<path d="M169.3 172.9L175.7 180.6" stroke-width="0.8"/>
<path d="M171.6 172.9L174.5 176.5L177.0 173.8" stroke-width="0.8"/>
<path d="M171.0 174.5L173.5 178.0L176.0 175.5L173.5 172.5" stroke-width="0.8"/>
<path d="M155.6 181.1L159.0 180.0L162.9 180.2L166.5 182.9L171.1 183.9L177.5 183.4L176.6 185.2L172.0 187.5L168.5 186.0L165.6 186.6L165.2 191.2L162.0 186.6L158.3 187.5L155.6 186.6Z" fill="#000" stroke-width="0.5"/>
<path d="M171.0 186.0L172.5 190.5" stroke-width="0.8"/>
<path d="M158.5 182.6L161.5 182.2L160.5 184.6L158.2 185.0ZM163.5 183.2L166.0 184.4L164.2 185.4ZM168.5 184.6L171.5 184.9L170 186.0Z" fill="#fff" stroke="none"/>
<path d="M141.8 180.2L145.5 179.3L146.9 182.0L150.1 184.8L154.6 186.6" stroke-width="1.8"/>
<path d="M147.5 173.4L144.8 178.9L143.9 180.7" stroke-width="0.8"/>
<path d="M141.8 180.2L145.0 174.0L143.5 173.0L140.5 179.0" stroke-width="0.8"/>
<path d="M158.0 497.8L164.4 431.1" stroke-width="0.9"/>
<path d="M154.1 484.6L154.8 497.9" stroke-width="1.3"/>
<path d="M156.1 483.9L156.7 497.9" stroke-width="1.3"/>
<path d="M155.1 488.3L155.6 498.4" stroke-width="0.8"/>
<path d="M160.0 481.4L159.6 497.4" stroke-width="1.3"/>
<path d="M158.4 486.5L158.5 497.4" stroke-width="0.9"/>
<path d="M157.0 499.3L158.1 492.4L160.9 491.2L161.2 494.5L163.4 492.5L163.8 495.8L166.0 495.1L165.6 497.4L170.7 498.0L166.2 499.3Z" fill="#000" stroke-width="0.5"/>
<path d="M161.0 497.6L187.5 480.9" stroke-width="0.9"/>
<path d="M163.0 497.6L224.3 484.6" stroke-width="0.9"/>
<path d="M162.0 498.0L176.1 497.7" stroke-width="0.8"/>
<path d="M156.6 498.8L152.4 492.0L149.2 486.0L147.0 482.8" stroke-width="1.0"/>
<path d="M142.8 480.7L144.7 479.6L147.0 479.1L149.7 479.9L152.4 481.4L151.3 482.8L149.0 482.2L147.0 483.7L144.8 482.4L143.3 482.1Z" fill="#000" stroke-width="0.5"/>
<path d="M141.8 480.4L142.9 480.6L142.9 479.4L144.0 479.8L144.4 478.5L145.4 479.2L146.1 478.7L147.0 478.9L148.0 477.9L148.5 479.2L149.4 478.3L149.9 479.7L151.0 479.4L151.3 480.5L152.4 480.2" stroke-width="0.8"/>
<path d="M152.6 482.4L151.8 481.9L151.1 482.4L150.4 482.2L149.9 483.2L149.0 482.5L148.5 483.3L147.7 483.5L146.8 484.3L146.1 483.6L145.2 483.4" stroke-width="0.8"/>
<path d="M147.0 482.8L143.3 485.7L139.6 489.7L132.3 486.5" stroke-width="1.1"/>
<path d="M136.4 481.4L139.6 484.2L143.3 483.7" stroke-width="1.0"/>
<path d="M145.6 481.9L145.2 482.8L144.0 483.1L144.1 484.4L141.9 483.6L142.6 485.6L141.4 485.7L141.3 486.9L139.8 486.8L140.1 488.4" stroke-width="0.8"/>
<path d="M146.6 482.8L145.6 483.2L145.7 484.6L144.3 484.6L144.6 486.1L142.9 485.8L142.8 487.1L141.6 487.2L141.4 488.3L140.3 488.5" stroke-width="0.8"/>
<path d="M151.5 492.9L147.4 496.3L145.3 494.5" stroke-width="0.9"/>
<path d="M145.6 494.7L142.9 494.3L140.9 497.3L140.2 502.0L140.2 506.6L141.3 509.9" stroke-width="2.3"/>
<path d="M145.8 493.4L144.7 494.4L143.9 493.6L142.7 494.2L141.3 494.3L141.8 495.7L139.8 495.4L140.8 497.2L139.5 497.9L140.5 498.8L138.8 499.4L140.4 500.4L138.2 500.9L140.2 502.0L138.3 502.9L139.9 503.9L139.3 504.8L139.9 505.7L138.9 507.0L140.3 507.5L139.9 508.5L141.0 509.1" stroke-width="0.9"/>
<path d="M145.5 495.5L144.7 494.8L143.7 495.2L143.1 494.5L143.8 496.0L142.1 495.9L142.2 497.1L141.0 497.3L142.0 498.2L140.9 498.9L141.2 499.7L140.6 500.5L141.8 501.5L140.4 502.0L140.8 502.9L140.4 503.9L140.8 504.8L140.3 505.7L141.4 506.2L140.7 507.3L141.7 507.9L141.2 509.0" stroke-width="0.9"/>
<path d="M146.2 495.6L143.8 498.5" stroke-width="0.9"/>
<path d="M156.6 499.3L149.9 499.3L152.4 504.8L135.1 530.0" stroke-width="0.9"/>
<path d="M149.9 499.3L152.4 492.9L156.6 497.4" stroke-width="0.8"/>
<path d="M151.5 492.9L155.2 497.4" stroke-width="0.8"/>
<path d="M125.1 523.8L129.6 528.8L134.2 532.4L140.0 535.3L145.2 537.5L151.6 539.6L158.0 540.3L164.1 539.3L169.9 538.0L175.0 536.0L182.4 531.6L189.8 526.6L196.2 519.7L200.7 511.5L204.9 500.0" stroke-width="0.9"/>
<path d="M134.2 532.4L140.0 535.3L145.2 537.5" stroke-width="1.4"/>
<path d="M125.1 523.8L123.4 525.6L128.0 531.2L133.0 535.0L139.0 538.2L145.0 540.5L151.0 542.6L156.0 544.5" stroke-width="0.8"/>
<path d="M120.2 528.3L124.0 526.7L122.2 529.7L125.6 528.5L124.3 531.1L127.1 530.3L125.2 534.9L128.5 532.6L128.2 535.1L131.0 533.5L128.6 538.7L132.8 535.4L132.2 538.9L134.9 536.2L134.0 540.4L136.7 537.7L136.2 541.1L138.9 538.5L139.2 541.2L141.1 539.8L141.7 542.0L143.7 540.4L143.3 545.3L146.2 541.0L145.8 545.8L148.3 542.5L148.3 546.4L150.8 543.2L151.2 545.7L153.4 543.9L153.7 546.8" stroke-width="1.0"/>
<path d="M121.4 527.2L123.8 526.2L122.7 528.0L124.5 527.5L123.2 529.5L125.4 528.7L124.6 530.3L126.5 529.7L125.2 531.6L127.4 530.8L126.9 532.6L128.5 531.8L128.3 533.4L129.8 532.8L128.8 535.3L130.9 533.9L130.4 535.9L132.2 534.7L132.1 536.7L133.6 535.4L133.5 537.3L134.8 536.4L134.4 538.7L136.3 536.9L135.8 539.3L137.5 537.8L137.2 539.9L138.9 538.5L138.8 540.8L140.3 538.9L140.1 541.2L141.6 539.3L141.6 541.4L142.9 540.0L142.8 542.2L144.3 540.4L144.1 543.1L145.6 541.0L145.6 543.1L147.0 541.2L147.0 543.5L148.3 541.8L148.2 544.1L149.6 542.3L149.5 544.8L150.9 542.9L150.8 545.2L152.4 543.3L152.3 545.6L153.7 544.0L153.7 546.3L155.2 544.4" stroke-width="0.9"/>
<path d="M118.5 529.2L120.6 528.8L119.5 530.4L121.4 530.2L119.9 531.9L122.3 531.4L121.2 533.0L123.2 532.7L121.6 534.5" stroke-width="0.9"/>
<path d="M143.0 541.5L146.5 552.0" stroke-width="0.8"/>
<path d="M151.0 544.0L154.5 550.0" stroke-width="0.8"/>
<path d="M155.0 545.0L158.3 552.5" stroke-width="1.2"/>
<path d="M158.9 541.6L161.7 541.1L163.5 542.5L166.2 541.6L169.9 542.1L173.6 541.1L172.6 544.3L169.0 545.3L164.9 545.7L162.6 543.9L159.8 544.8L158.9 541.6" stroke-width="0.9"/>
<path d="M175.0 540.7L174.6 537.3L176.8 539.3L176.6 536.5L178.8 538.3L178.5 535.2L180.8 537.5L180.6 534.5L182.7 536.3L182.5 533.4L184.8 534.9L184.3 532.4L186.5 533.8L186.0 531.2L187.5 531.5L187.5 529.8L189.7 531.1L189.4 528.9L191.4 529.4L191.1 527.5L193.6 528.4L192.4 525.6L194.9 526.5" stroke-width="1.0"/>
<path d="M173.5 538.8L182.9 534.2L190.6 528.8" stroke-width="0.8"/>
<path d="M189.8 528.2L193.5 533.5L190.0 533.0" stroke-width="0.9"/>
<path d="M190.5 528.5L196.8 522.0L201.5 513.5" stroke-width="0.8"/>
<path d="M196.5 520.0L197.4 520.9" stroke-width="0.9"/>
<path d="M197.3 518.5L198.5 519.8" stroke-width="0.9"/>
<path d="M198.0 517.2L199.1 518.4" stroke-width="0.9"/>
<path d="M198.7 515.8L200.0 517.1" stroke-width="0.9"/>
<path d="M199.5 514.3L200.5 515.3" stroke-width="0.9"/>
<path d="M200.3 512.8L201.9 514.5" stroke-width="0.9"/>
<path d="M201.0 511.4L202.4 512.4" stroke-width="0.9"/>
<path d="M201.5 510.0L202.6 510.8" stroke-width="0.9"/>
<path d="M202.2 508.2L203.8 509.4" stroke-width="0.9"/>
<path d="M202.8 506.5L203.9 507.3" stroke-width="0.9"/>
<path d="M203.6 504.5L205.1 505.6" stroke-width="0.9"/>
<path d="M204.3 502.5L205.6 503.5" stroke-width="0.9"/>
<path d="M204.9 500.9L206.5 502.1" stroke-width="0.9"/>
<path d="M204.9 500.0L205.6 498.6" stroke-width="1.2"/>
<path d="M466.1 478.8L472.2 469.0L478.3 462.3L486.8 455.6L496.6 449.5L508.8 445.2L521.0 443.2L533.2 442.8L537.2 443.4L549.4 448.3L559.1 454.4L566.5 461.7L570.7 467.8" stroke-width="0.8"/>
<path d="M466.1 478.8L465.3 476.6" stroke-width="0.7"/>
<path d="M467.6 476.4L466.7 473.9" stroke-width="0.7"/>
<path d="M469.0 474.2L468.3 472.4" stroke-width="0.7"/>
<path d="M470.1 472.4L469.4 470.5" stroke-width="0.7"/>
<path d="M471.5 470.2L470.9 468.6" stroke-width="0.7"/>
<path d="M472.9 468.3L472.6 466.5" stroke-width="0.7"/>
<path d="M474.2 466.8L473.8 464.0" stroke-width="0.7"/>
<path d="M475.4 465.5L475.1 463.6" stroke-width="0.7"/>
<path d="M477.0 463.8L476.5 461.1" stroke-width="0.7"/>
<path d="M478.5 462.1L478.5 459.4" stroke-width="0.7"/>
<path d="M480.7 460.4L480.7 458.1" stroke-width="0.7"/>
<path d="M482.9 458.6L482.9 456.9" stroke-width="0.7"/>
<path d="M484.8 457.2L484.8 454.4" stroke-width="0.7"/>
<path d="M486.3 456.0L486.4 453.8" stroke-width="0.7"/>
<path d="M488.6 454.5L488.9 452.5" stroke-width="0.7"/>
<path d="M489.9 453.7L490.1 451.8" stroke-width="0.7"/>
<path d="M491.4 452.8L491.7 450.0" stroke-width="0.7"/>
<path d="M493.3 451.6L493.5 449.5" stroke-width="0.7"/>
<path d="M495.3 450.3L495.5 448.5" stroke-width="0.7"/>
<path d="M500.9 445.2L508.8 442.2L528.3 439.8" stroke-width="0.9"/>
<path d="M503.0 444.3L503.2 442.7" stroke-width="0.7"/>
<path d="M504.5 443.8L504.7 442.3" stroke-width="0.7"/>
<path d="M505.6 443.3L505.8 441.7" stroke-width="0.7"/>
<path d="M507.3 442.8L507.4 441.2" stroke-width="0.7"/>
<path d="M508.7 442.2L508.9 440.5" stroke-width="0.7"/>
<path d="M510.1 442.0L510.5 441.0" stroke-width="0.7"/>
<path d="M512.0 441.8L512.5 440.1" stroke-width="0.7"/>
<path d="M513.9 441.6L514.3 440.3" stroke-width="0.7"/>
<path d="M515.0 441.4L515.5 440.0" stroke-width="0.7"/>
<path d="M516.6 441.2L517.0 440.0" stroke-width="0.7"/>
<path d="M518.0 441.1L518.4 439.8" stroke-width="0.7"/>
<path d="M520.0 440.8L520.5 439.4" stroke-width="0.7"/>
<path d="M521.8 440.6L522.3 439.2" stroke-width="0.7"/>
<path d="M523.2 440.4L523.6 439.1" stroke-width="0.7"/>
<path d="M524.5 440.3L525.1 438.6" stroke-width="0.7"/>
<path d="M525.8 440.1L526.3 438.6" stroke-width="0.7"/>
<path d="M527.9 439.9L528.2 438.9" stroke-width="0.7"/>
<path d="M496.6 449.5L508.8 445.2L521.0 443.2L533.2 442.8" stroke-width="1.2"/>
<path d="M543.9 439.1L548.2 438.5L556.0 444.0L570.1 455.6" stroke-width="0.9"/>
<path d="M548.2 438.5L548.3 436.7" stroke-width="0.7"/>
<path d="M549.6 439.5L549.8 437.1" stroke-width="0.7"/>
<path d="M551.2 440.6L551.3 439.1" stroke-width="0.7"/>
<path d="M553.2 442.0L553.3 440.4" stroke-width="0.7"/>
<path d="M555.2 443.5L555.4 441.1" stroke-width="0.7"/>
<path d="M556.9 444.7L557.1 443.4" stroke-width="0.7"/>
<path d="M558.0 445.6L558.3 443.3" stroke-width="0.7"/>
<path d="M559.8 447.1L560.1 444.9" stroke-width="0.7"/>
<path d="M561.2 448.3L561.5 446.5" stroke-width="0.7"/>
<path d="M562.9 449.6L563.1 448.0" stroke-width="0.7"/>
<path d="M564.6 451.1L564.9 448.8" stroke-width="0.7"/>
<path d="M566.3 452.4L566.6 450.0" stroke-width="0.7"/>
<path d="M567.8 453.7L568.0 452.3" stroke-width="0.7"/>
<path d="M569.7 455.3L570.0 453.4" stroke-width="0.7"/>
<path d="M540.9 445.2L552.0 450.5L562.0 457.5L571.3 466.5" stroke-width="2.0"/>
<path d="M560.0 452.5L567.0 458.8L572.5 465.5" stroke-width="1.4"/>
<path d="M570.7 467.8L568.3 469.6L575.0 480.6L578.7 490.4L584.8 489.8L584.8 482.4L594.5 478.2" stroke-width="0.9"/>
<path d="M584.8 482.4L584.2 486.0L586.0 492.2L588.4 492.2" stroke-width="0.9"/>
<path d="M575.0 466.0L578.5 472.0L581.1 478.8" stroke-width="1.6"/>
<path d="M575.0 466.0L575.9 464.8" stroke-width="0.7"/>
<path d="M575.7 467.5L576.3 466.8" stroke-width="0.7"/>
<path d="M576.4 468.9L577.3 467.7" stroke-width="0.7"/>
<path d="M577.0 470.2L578.1 468.8" stroke-width="0.7"/>
<path d="M577.6 471.4L578.7 470.0" stroke-width="0.7"/>
<path d="M578.3 472.9L579.2 471.7" stroke-width="0.7"/>
<path d="M579.1 474.6L579.7 473.9" stroke-width="0.7"/>
<path d="M579.6 475.7L580.6 474.4" stroke-width="0.7"/>
<path d="M580.2 476.9L580.9 476.0" stroke-width="0.7"/>
<path d="M581.0 478.6L581.9 477.4" stroke-width="0.7"/>
<path d="M575.0 480.0L540.2 496.5L540.9 500.1L567.7 498.9" stroke-width="0.9"/>
<path d="M571.3 497.1L567.7 497.1L567.7 500.3L571.3 500.3" stroke-width="0.9"/>
<path d="M479.1 486.2L512.4 496.4L512.4 504.6L509.2 504.6L509.2 496.4" stroke-width="0.9"/>
<path d="M483.2 502.5L509.2 501.7" stroke-width="0.9"/>
<path d="M512.4 500.1L529.8 501.4L539.9 498.2" stroke-width="0.9"/>
<path d="M509.2 504.6L510.6 508.3L513.4 513.8L517.0 518.4L521.6 521.6L527.1 523.7L532.6 524.3L538.1 522.8L545.0 519.3" stroke-width="1.3"/>
<path d="M499.6 498.4L507.4 496.4" stroke-width="0.9"/>
<path d="M503.3 499.6L507.9 497.3" stroke-width="0.9"/>
<path d="M503.8 495.5L506.5 497.8L504.7 500.1" stroke-width="0.9"/>
<path d="M497.4 506.5L504.7 503.7" stroke-width="0.9"/>
<path d="M498.7 508.3L504.7 506.0" stroke-width="0.9"/>
<path d="M493.7 514.5L502.8 509.7" stroke-width="0.9"/>
<path d="M496.9 515.4L503.3 512.0" stroke-width="0.9"/>
<path d="M494.6 512.0L500.6 509.7" stroke-width="0.9"/>
<path d="M504.7 503.7L504.7 509.7L502.8 509.7" stroke-width="0.9"/>
<path d="M504.7 503.7L509.0 503.7" stroke-width="0.9"/>
<path d="M503.3 512.0L502.4 509.7" stroke-width="0.9"/>
<path d="M507.0 512.4L511.5 514.7L514.3 520.2" stroke-width="0.9"/>
<path d="M502.4 517.4L507.4 513.8" stroke-width="0.9"/>
<path d="M504.7 520.6L510.2 516.5" stroke-width="0.9"/>
<path d="M508.3 525.7L513.4 520.2" stroke-width="0.9"/>
<path d="M506.0 536.7L515.2 523.4" stroke-width="0.9"/>
<path d="M511.1 533.0L516.6 525.7" stroke-width="0.9"/>
<path d="M512.0 543.1L517.9 526.6" stroke-width="0.9"/>
<path d="M512.4 537.6L514.3 534.8L515.6 536.7" stroke-width="0.9"/>
<path d="M507.4 513.8L510.2 516.5L513.4 520.2L516.6 525.7" stroke-width="0.9"/>
<path d="M515.2 523.4L517.9 521.1L521.6 521.6" stroke-width="0.9"/>
<path d="M520.0 521.5L525.5 523.4L532.8 524.3L538.3 522.4L544.2 519.2L546.5 522.4L551.1 517.9L555.2 512.8L557.5 508.3L560.3 506.4" stroke-width="1.1"/>
<path d="M560.3 506.4L564.8 503.2L571.2 502.3" stroke-width="0.9"/>
<path d="M560.3 506.4L567.6 506.9" stroke-width="0.9"/>
<path d="M559.3 509.6L571.7 510.1" stroke-width="0.9"/>
<path d="M560.3 511.5L573.1 516.5" stroke-width="0.9"/>
<path d="M561.2 512.4L569.4 512.4" stroke-width="0.9"/>
<path d="M554.8 514.2L559.3 517.9" stroke-width="0.9"/>
<path d="M556.6 513.3L560.7 516.5" stroke-width="0.9"/>
<path d="M557.5 508.3L559.3 509.6L560.3 511.5" stroke-width="0.9"/>
<path d="M563.0 504.6L567.6 506.9" stroke-width="0.9"/>
<path d="M544.2 519.2L540.6 526.6L542.9 537.5" stroke-width="0.9"/>
<path d="M542.0 530.7L544.2 535.3" stroke-width="0.9"/>
<path d="M543.8 528.9L546.5 533.4" stroke-width="0.9"/>
<path d="M545.6 527.0L548.4 530.7" stroke-width="0.9"/>
<path d="M547.4 525.2L550.6 528.9" stroke-width="0.9"/>
<path d="M546.5 522.4L540.6 526.6" stroke-width="0.9"/>
<path d="M540.6 526.6L542.0 530.7L547.4 525.2" stroke-width="0.9"/>
<path d="M551.6 521.5L552.0 525.2L559.8 534.3" stroke-width="0.9"/>
<path d="M553.9 523.4L560.3 530.2" stroke-width="0.9"/>
<path d="M554.8 521.5L562.1 528.9" stroke-width="0.9"/>
<path d="M558.4 524.3L563.0 527.5" stroke-width="0.9"/>
<path d="M560.3 522.4L567.1 526.6" stroke-width="0.9"/>
<path d="M551.6 521.5L554.8 521.5L560.3 522.4" stroke-width="0.9"/>
<path d="M548.4 522.4L551.6 521.5" stroke-width="0.9"/>
<path d="M520.0 522.4L523.7 526.1L523.7 529.8L520.0 529.8" stroke-width="0.9"/>
<path d="M523.7 529.8L526.4 531.6L526.4 534.3L521.8 534.3L522.3 537.1" stroke-width="0.9"/>
<path d="M526.4 534.3L529.1 535.3L529.1 538.9L524.1 538.9L523.7 541.7" stroke-width="0.9"/>
<path d="M529.1 538.9L534.6 539.8L535.1 542.6L531.4 542.6L531.4 544.9" stroke-width="0.9"/>
<path d="M535.1 542.6L538.8 542.6L539.2 545.3L536.0 545.3L536.5 548.1" stroke-width="0.9"/>
<path d="M539.2 545.3L543.3 544.4L544.2 549.4" stroke-width="0.9"/>
<path d="M540.6 545.3L541.5 552.6" stroke-width="0.9"/>
<path d="M534.6 548.1L537.4 547.6" stroke-width="0.9"/>
<path d="M534.6 548.1L535.4 569.6" stroke-width="0.9"/>
<path d="M526.9 538.9L526.4 542.1" stroke-width="0.9"/>
<path d="M529.1 538.9L528.7 542.6" stroke-width="0.9"/>
<path d="M518.9 522.0L521.6 525.2L524.3 525.2L524.3 528.4L521.1 529.8L520.2 533.0" stroke-width="0.9"/>
<path d="M524.3 528.4L527.1 530.3L527.5 533.0L524.3 533.9" stroke-width="0.9"/>
<path d="M521.6 521.6L523.4 526.6" stroke-width="0.9"/>
</g>
<g font-family="'Liberation Sans', Arial, sans-serif" font-size="12.4" fill="#222222">
<text x="13.4" y="9.7" textLength="50.2" lengthAdjust="spacingAndGlyphs">Cluster 3</text>
<text x="6.8" y="344.0" textLength="49.9" lengthAdjust="spacingAndGlyphs">Cluster 5</text>
<text x="362.3" y="347.0" textLength="55.0" lengthAdjust="spacingAndGlyphs">Cluster 19</text>
<text x="339.4" y="20.1">Location</text>
<text x="449.2" y="20.1">Serotype</text>
<rect x="341" y="27.9" width="10.5" height="10.4" fill="#9ACD32"/>
<text x="357.2" y="37.5">Australia</text>
<rect x="341" y="42.9" width="10.5" height="10.4" fill="#000080"/>
<text x="357.2" y="52.5">Colombia</text>
<rect x="341" y="57.8" width="10.5" height="10.4" fill="#FF8C00"/>
<text x="357.2" y="67.4">Denmark</text>
<rect x="341" y="72.8" width="10.5" height="10.4" fill="#FFFF00"/>
<text x="357.2" y="82.3">Finland</text>
<rect x="341" y="87.7" width="10.5" height="10.4" fill="#7FFF00"/>
<text x="357.2" y="97.3">France</text>
<rect x="341" y="102.7" width="10.5" height="10.4" fill="#4169E1"/>
<text x="357.2" y="112.2">Germany</text>
<rect x="341" y="117.7" width="10.5" height="10.4" fill="#00FF7F"/>
<text x="357.2" y="127.1">Iceland</text>
<rect x="341" y="132.6" width="10.5" height="10.4" fill="#FF0000"/>
<text x="357.2" y="142.1">Ireland</text>
<rect x="341" y="147.6" width="10.5" height="10.4" fill="#DC143C"/>
<text x="357.2" y="157.0">Japan</text>
<rect x="341" y="162.5" width="10.5" height="10.4" fill="#00FFFF"/>
<text x="357.2" y="171.9">Maela</text>
<rect x="341" y="177.5" width="10.5" height="10.4" fill="#00BFFF"/>
<text x="357.2" y="186.9">The Netherlands</text>
<rect x="341" y="192.5" width="10.5" height="10.4" fill="#0000FF"/>
<text x="357.2" y="201.8">Norway</text>
<rect x="341" y="207.4" width="10.5" height="10.4" fill="#FF00FF"/>
<text x="357.2" y="216.7">Portugal</text>
<rect x="341" y="222.4" width="10.5" height="10.4" fill="#F0E68C"/>
<text x="357.2" y="231.6">Spain</text>
<rect x="341" y="237.3" width="10.5" height="10.4" fill="#DB7093"/>
<text x="357.2" y="246.6">Switzerland</text>
<rect x="341" y="252.3" width="10.5" height="10.4" fill="#FF1493"/>
<text x="357.2" y="261.5">Taiwan</text>
<rect x="341" y="267.3" width="10.5" height="10.4" fill="#FFA07A"/>
<text x="357.2" y="276.4">UK</text>
<rect x="341" y="282.2" width="10.5" height="10.4" fill="#EE82EE"/>
<text x="357.2" y="291.4">USA</text>
<rect x="449.8" y="27.9" width="10.5" height="10.4" fill="#556B2F"/>
<text x="466.6" y="37.5">Type a</text>
<rect x="449.8" y="42.9" width="10.5" height="10.4" fill="#3CB371"/>
<text x="466.6" y="52.5">Type a/b (missing genes)</text>
<rect x="449.8" y="57.8" width="10.5" height="10.4" fill="#708090"/>
<text x="466.6" y="67.4">Type b</text>
<rect x="449.8" y="72.8" width="10.5" height="10.4" fill="#8B4513"/>
<text x="466.6" y="82.3">Type f</text>
<rect x="449.8" y="87.7" width="10.5" height="10.4" fill="#FFE4E1"/>
<text x="466.6" y="97.3">Non-typeable</text>
</g>
</svg>
</body></html>
